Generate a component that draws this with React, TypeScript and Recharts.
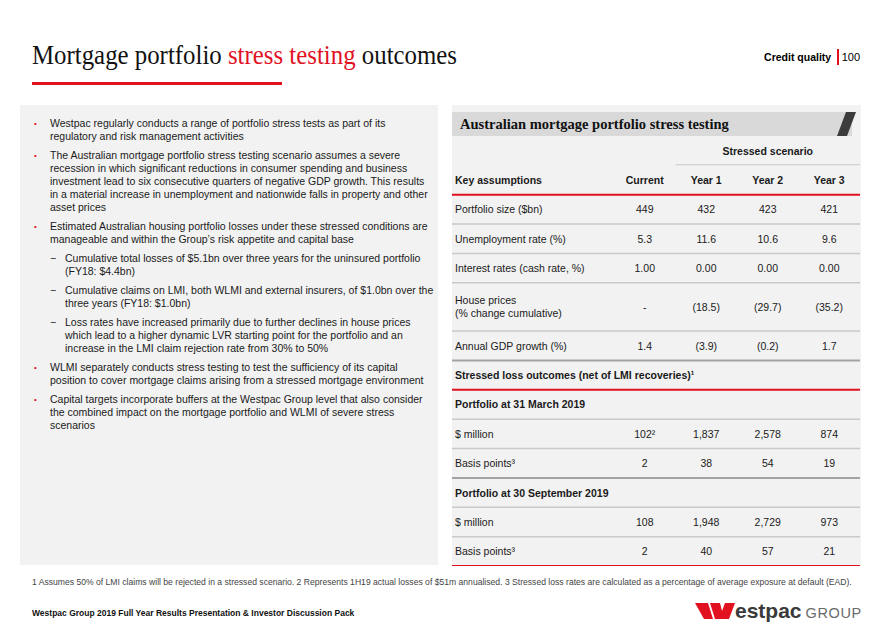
import { ComposedChart, XAxis, YAxis, Scatter, ReferenceLine, ReferenceArea } from 'recharts';

// table columns and values
const columns = ['Current', 'Year 1', 'Year 2', 'Year 3'];
const portfolioSize = [449, 432, 423, 421];
const unemploymentRate = [5.3, 11.6, 10.6, 9.6];
const cashRate = [1.0, 0.0, 0.0, 0.0];
const housePrices = [null, -18.5, -29.7, -35.2];
const gdpGrowth = [1.4, -3.9, -0.2, 1.7];
const lossMar19Millions = [102, 1837, 2578, 874];
const lossMar19Bps = [2, 38, 54, 19];
const lossSep19Millions = [108, 1948, 2729, 973];
const lossSep19Bps = [2, 40, 57, 21];

const bullets = [
  { sub: false, lines: ['Westpac regularly conducts a range of portfolio stress tests as part of its', 'regulatory and risk management activities'] },
  { sub: false, lines: ['The Australian mortgage portfolio stress testing scenario assumes a severe', 'recession in which significant reductions in consumer spending and business', 'investment lead to six consecutive quarters of negative GDP growth.  This results', 'in a material increase in unemployment and nationwide falls in property and other', 'asset prices'] },
  { sub: false, lines: ['Estimated Australian housing portfolio losses under these stressed conditions are', 'manageable and within the Group\u2019s risk appetite and capital base'] },
  { sub: true, lines: ['Cumulative total losses of $5.1bn over three years for the uninsured portfolio', '(FY18: $4.4bn)'] },
  { sub: true, lines: ['Cumulative claims on LMI, both WLMI and external insurers, of $1.0bn over the', 'three years (FY18: $1.0bn)'] },
  { sub: true, lines: ['Loss rates have increased primarily due to further declines in house prices', 'which lead to a higher dynamic LVR starting point for the portfolio and an', 'increase in the LMI claim rejection rate from 30% to 50%'] },
  { sub: false, lines: ['WLMI separately conducts stress testing to test the sufficiency of its capital', 'position to cover mortgage claims arising from a stressed mortgage environment'] },
  { sub: false, lines: ['Capital targets incorporate buffers at the Westpac Group level that also consider', 'the combined impact on the mortgage portfolio and WLMI of severe stress', 'scenarios'] },
];

const RED = '#e2111f';
const SANS = '"Liberation Sans", Arial, sans-serif';
const SERIF = '"Liberation Serif", "Times New Roman", serif';

const fmt = (vals: (number | null)[], dp: number) =>
  vals.map((v) => {
    if (v === null) return '-';
    const s = Math.abs(v).toLocaleString('en-US', { minimumFractionDigits: dp, maximumFractionDigits: dp });
    return v < 0 ? `(${s})` : s;
  });

type Row = { label: string[]; values?: string[]; bold?: boolean; line: string };

const rows: Row[] = [
  { label: ['Key assumptions'], values: columns, bold: true, line: 'red' },
  { label: ['Portfolio size ($bn)'], values: fmt(portfolioSize, 0), line: 'grey' },
  { label: ['Unemployment rate (%)'], values: fmt(unemploymentRate, 1), line: 'grey' },
  { label: ['Interest rates (cash rate, %)'], values: fmt(cashRate, 2), line: 'grey' },
  { label: ['House prices', '(% change cumulative)'], values: fmt(housePrices, 1), line: 'grey' },
  { label: ['Annual GDP growth (%)'], values: fmt(gdpGrowth, 1), line: 'dark' },
  { label: ['Stressed loss outcomes (net of LMI recoveries)\u00b9'], bold: true, line: 'red' },
  { label: ['Portfolio at 31 March 2019'], bold: true, line: 'grey' },
  { label: ['$ million'], values: fmt(lossMar19Millions, 0).map((s, i) => (i === 0 ? s + '\u00b2' : s)), line: 'grey' },
  { label: ['Basis points\u00b3'], values: fmt(lossMar19Bps, 0), line: 'dark' },
  { label: ['Portfolio at 30 September 2019'], bold: true, line: 'grey' },
  { label: ['$ million'], values: fmt(lossSep19Millions, 0), line: 'grey' },
  { label: ['Basis points\u00b3'], values: fmt(lossSep19Bps, 0), line: 'red' },
];

// row layout in "row units": the first unit holds the Stressed scenario heading
const rowTops: number[] = [];
let acc = 1;
rows.forEach((r) => {
  rowTops.push(acc);
  acc += r.label.length > 1 ? 1.64 : 1;
});
const totalUnits = acc;
const rowCenters = rows.map((r, i) => rowTops[i] + (r.label.length > 1 ? 0.82 : 0.5));
const rowBottoms = rows.map((r, i) => rowTops[i] + (r.label.length > 1 ? 1.64 : 1));

// x is the column index; the label column takes the space left of -0.5
const cells: { col: number; y: number; text: string; bold: boolean }[] = [];
rows.forEach((r, i) => {
  (r.values || []).forEach((v, j) => cells.push({ col: j, y: rowCenters[i], text: v, bold: !!r.bold }));
  if (i === 0) cells.push({ col: 2, y: 0.5, text: 'Stressed scenario', bold: true });
});

const lineStyle: Record<string, { stroke: string; w: number }> = {
  red: { stroke: RED, w: 2 },
  grey: { stroke: '#c9c9c9', w: 1.5 },
  dark: { stroke: '#a3a3a3', w: 2 },
};

const CellText = (props: any) => {
  const { cx, cy, payload } = props;
  return (
    <text x={cx} y={cy} textAnchor="middle" dominantBaseline="central" fontFamily={SANS} fontSize={10.5}
      fontWeight={payload.bold ? 'bold' : 'normal'} fill="#1a1a1a">
      {payload.text}
    </text>
  );
};

const RowLabel = (props: any) => {
  const { y, index } = props;
  const r = rows[index];
  if (!r) return null;
  const n = r.label.length;
  return (
    <text x={3} y={y} fontFamily={SANS} fontSize={10.5} fontWeight={r.bold ? 'bold' : 'normal'} fill="#1a1a1a">
      {r.label.map((l, k) => (
        <tspan key={k} x={3} y={y + (k - (n - 1) / 2) * 13} dominantBaseline="central">{l}</tspan>
      ))}
    </text>
  );
};

function StressTable() {
  return (
    <ComposedChart width={408} height={430} data={cells} margin={{ top: 0, right: 0, bottom: 0, left: -1 }}>
      <XAxis dataKey="col" type="number" domain={[-0.5, 3.5]} hide padding={{ left: 162, right: 0 }} allowDataOverflow />
      <YAxis dataKey="y" type="number" domain={[0, totalUnits]} reversed width={1} axisLine={false} tickLine={false}
        ticks={rowCenters} interval={0} tick={RowLabel} allowDataOverflow />
      <ReferenceArea x1={0.5} x2={3.5} y1={0.965} y2={1} fill="#c9c9c9" fillOpacity={1} stroke="none" />
      {rows.map((r, i) => (
        <ReferenceLine key={i} y={rowBottoms[i]} stroke={lineStyle[r.line].stroke} strokeWidth={lineStyle[r.line].w} />
      ))}
      <Scatter dataKey="y" data={cells} shape={CellText} isAnimationActive={false} />
    </ComposedChart>
  );
}

export default function App() {
  let lineTop = 116.5;
  return (
    <div style={{ position: 'absolute', left: 0, top: 0, width: 892, height: 635, background: '#fff', overflow: 'hidden', fontFamily: SANS }}>
      <div style={{ position: 'absolute', left: 32, top: 38, fontFamily: SERIF, fontSize: 27, lineHeight: '34px', whiteSpace: 'nowrap', transform: 'scaleX(0.92)', transformOrigin: 'left top', color: '#111' }}>
        Mortgage portfolio <span style={{ color: RED }}>stress testing</span> outcomes
      </div>
      <div style={{ position: 'absolute', left: 32, top: 82, width: 250, height: 2.5, background: RED }} />
      <div style={{ position: 'absolute', right: 32, top: 49, fontSize: 10.5, whiteSpace: 'nowrap', display: 'flex', alignItems: 'center' }}>
        <span style={{ fontWeight: 'bold' }}>Credit quality</span>
        <span style={{ display: 'inline-block', width: 1.5, height: 16, background: RED, margin: '0 3px 0 6px' }} />
        <span style={{ fontSize: 11 }}>100</span>
      </div>

      <div style={{ position: 'absolute', left: 20, top: 105, width: 418, height: 460, background: '#f2f2f2' }} />
      {bullets.map((b, i) => {
        const top = lineTop;
        lineTop += b.lines.length * 13 + 6;
        return (
          <div key={i} style={{ position: 'absolute', left: b.sub ? 50 : 34, top, fontSize: 10.5, lineHeight: '13px', color: '#1a1a1a', whiteSpace: 'nowrap' }}>
            <span style={{ position: 'absolute', left: 0, top: 0, color: b.sub ? '#1a1a1a' : RED, fontSize: b.sub ? 10.5 : 8 }}>{b.sub ? '\u2212' : '\u2022'}</span>
            <div style={{ marginLeft: b.sub ? 15 : 16 }}>
              {b.lines.map((l, k) => <div key={k}>{l}</div>)}
            </div>
          </div>
        );
      })}

      <div style={{ position: 'absolute', left: 452, top: 105, width: 409, height: 461, background: '#f2f2f2' }} />
      <div style={{ position: 'absolute', left: 452, top: 112, width: 400, height: 24, background: '#d9d9d9' }} />
      <svg style={{ position: 'absolute', left: 834, top: 110 }} width={26} height={28}>
        <polygon points="12,2 22,2 13,26 3,26" fill="#3c3c3c" />
      </svg>
      <div style={{ position: 'absolute', left: 460, top: 115, fontFamily: SERIF, fontWeight: 'bold', fontSize: 14.5, lineHeight: '18px', color: '#111', whiteSpace: 'nowrap' }}>
        Australian mortgage portfolio stress testing
      </div>
      <div style={{ position: 'absolute', left: 452, top: 136 }}>
        <StressTable />
      </div>

      <div style={{ position: 'absolute', left: 32, top: 577, fontSize: 8.6, color: '#444', whiteSpace: 'nowrap' }}>
        1 Assumes 50% of LMI claims will be rejected in a stressed scenario. 2 Represents 1H19 actual losses of $51m annualised. 3 Stressed loss rates are calculated as a percentage of average exposure at default (EAD).
      </div>
      <div style={{ position: 'absolute', left: 32, top: 608, fontSize: 8.5, fontWeight: 'bold', color: '#111', whiteSpace: 'nowrap' }}>
        Westpac Group 2019 Full Year Results Presentation &amp; Investor Discussion Pack
      </div>
      <svg style={{ position: 'absolute', left: 695, top: 603 }} width={42} height={17}>
        <polygon points="0,0 13,0 18,16 9,16" fill={RED} />
        <polygon points="15,0 25,0 29,16 20,16" fill={RED} />
        <polygon points="30,0 40,0 34,16 24,16" fill={RED} />
      </svg>
      <div style={{ position: 'absolute', left: 735, top: 598, fontSize: 21, lineHeight: '26px', whiteSpace: 'nowrap' }}>
        <span style={{ fontWeight: 'bold', color: '#3a3a3a' }}>estpac</span>
        <span style={{ color: '#6a6a6a', fontSize: 14.5, marginLeft: 4, letterSpacing: 0.6 }}>GROUP</span>
      </div>
    </div>
  );
}
